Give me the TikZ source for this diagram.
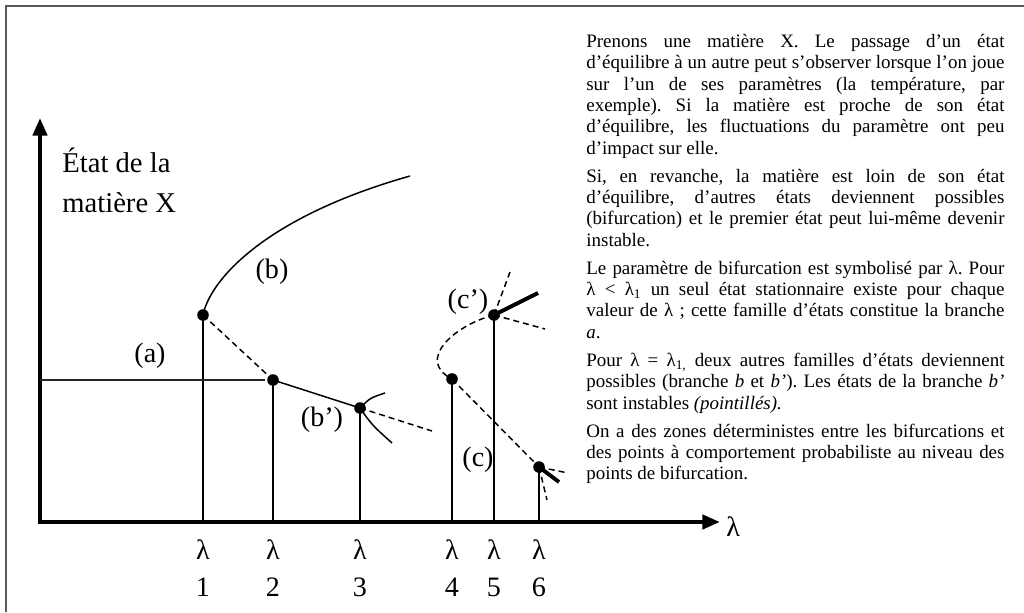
\documentclass[tikz,border=0pt]{standalone}
\usepackage{fontspec}
\setmainfont{Liberation Serif}
\usetikzlibrary{arrows.meta}

\begin{document}
\begin{tikzpicture}[x=0.02cm, y=-0.02cm,
  axe/.style={line width=2.3pt, -{Triangle[length=10pt,width=8pt]}},
  cadre/.style={line width=1.1pt, draw=black!65},
  niveau/.style={line width=1.1pt},
  stable/.style={line width=0.85pt},
  instable/.style={line width=0.85pt, dash pattern=on 3.4pt off 2.3pt},
  fort/.style={line width=2.2pt},
  point/.style={circle, fill, inner sep=0pt, minimum size=6.6pt},
  etiq/.style={font=\fontsize{16}{21}\selectfont, inner sep=0pt}]
  \useasboundingbox (0,0) rectangle (1024,612);
  \draw[cadre] (6,612) -- (6,6) -- (1024,6);

  % axes
  \coordinate (ox) at (38,522);
  \coordinate (oy) at (40,524);
  \coordinate (xmax) at (720,522);
  \coordinate (ymax) at (40,118);
  \draw[axe] (ox) -- (xmax);
  \draw[axe] (oy) -- (ymax);
  \node[etiq, anchor=west] (lam) at (726,527) {λ};
  \node[etiq, align=left, anchor=north west, font=\fontsize{16.3}{22.5}\selectfont] (titre) at (62,148) {État de la\\matière X};

  % points de bifurcation
  \foreach \n/\x/\y in {1/203/315, 2/273/380, 3/360/408, 4/452/379, 5/494/315, 6/539/467} {
    \coordinate (t\n) at (\x,522);
    \node[point] (p\n) at (\x,\y) {};
    \draw[niveau] (t\n) -- (p\n.center);
    \node[etiq, align=center, anchor=north] (l\n) at (\x,539) {λ\\\n};
  }

  % branche a
  \coordinate (a0) at (40,380);
  \coordinate (a1) at (265,380);
  \draw[line width=0.6pt, black!85] (a0) -- (a1);
  \node[etiq] (la) at (150,356) {(a)};

  % branches b et b'
  \coordinate (b1) at (410,176);
  \draw[stable] (p1.center) .. controls (210,280) and (265,217) .. (b1);
  \node[etiq] (lb) at (272,272) {(b)};
  \draw[instable] (p1.center) -- (p2.center);
  \draw[stable] (p2.center) -- (p3.center);
  \coordinate (b2) at (385,393);
  \coordinate (b3) at (392,443);
  \coordinate (b4) at (432,431);
  \draw[stable] (p3.center) .. controls (370,398) .. (b2);
  \draw[stable] (p3.center) .. controls (372,425) .. (b3);
  \draw[instable] (p3.center) -- (b4);
  \node[etiq] (lbp) at (322,420) {(b’)};

  % branches c et c'
  \draw[instable] (p5.center) .. controls (455,325) and (415,360) .. (p4.center);
  \draw[instable] (p4.center) -- (p6.center);
  \coordinate (c1) at (510,272);
  \coordinate (c2) at (538,293);
  \coordinate (c3) at (545,329);
  \draw[instable] (p5.center) -- (c1);
  \draw[fort] (p5.center) -- (c2);
  \draw[instable] (p5.center) -- (c3);
  \coordinate (c4) at (568,473);
  \coordinate (c5) at (559,482);
  \coordinate (c6) at (547,500);
  \draw[instable] (p6.center) -- (c4);
  \draw[fort] (p6.center) -- (c5);
  \draw[instable] (p6.center) -- (c6);
  \node[etiq] (lcp) at (468,302) {(c’)};
  \node[etiq] (lc) at (478,460) {(c)};

  % texte
  \node[anchor=north west, text width=238pt, inner sep=0pt, align=justify,
        font=\fontsize{10.8}{12.13}\selectfont] (texte) at (586,34) {%
    \setlength{\parskip}{3.9pt}\hyphenpenalty=10000\frenchspacing
    Prenons une matière X. Le passage d’un état\linebreak
    d’équilibre à un autre peut s’observer lorsque l’on joue\linebreak
    sur l’un de ses paramètres (la température, par\linebreak
    exemple). Si la matière est proche de son état\linebreak
    d’équilibre, les fluctuations du paramètre ont peu\linebreak
    d’impact sur elle.\par
    Si, en revanche, la matière est loin de son état\linebreak
    d’équilibre, d’autres états deviennent possibles\linebreak
    (bifurcation) et le premier état peut lui-même devenir\linebreak
    instable.\par
    Le paramètre de bifurcation est symbolisé par λ. Pour\linebreak
    λ < λ\textsubscript{1} un seul état stationnaire existe pour chaque\linebreak
    valeur de λ ; cette famille d’états constitue la branche\linebreak
    \textit{a}.\par
    Pour λ = λ\textsubscript{1,} deux autres familles d’états deviennent\linebreak
    possibles (branche \textit{b} et \textit{b’}). Les états de la branche \textit{b’}\linebreak
    sont instables \textit{(pointillés).}\par
    On a des zones déterministes entre les bifurcations et\linebreak
    des points à comportement probabiliste au niveau des\linebreak
    points de bifurcation.};
\end{tikzpicture}
\end{document}
